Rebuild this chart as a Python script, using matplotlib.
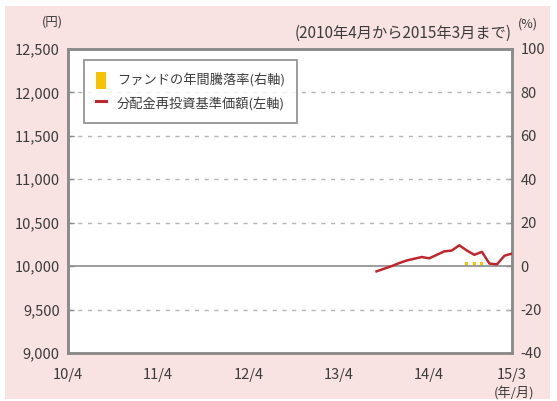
import matplotlib.pyplot as plt
from matplotlib.patches import Rectangle, Patch
from matplotlib.lines import Line2D

plt.rcParams['font.family'] = ['Noto Sans CJK JP', 'DejaVu Sans']

# months counted from 2010/4 (0) to 2015/3 (59)
nav_months = list(range(41, 60))
nav_values = [9940, 9970, 10000, 10035, 10065, 10085, 10105, 10090, 10130, 10170,
              10180, 10240, 10180, 10130, 10165, 10030, 10020, 10120, 10145]

ret_months = [53, 54, 55, 56, 57, 58, 59]
ret_values = [1.8, 1.7, 1.8, 0.0, 0.7, 0.0, 0.0]

xtick_pos = [0, 12, 24, 36, 48, 59]
xtick_labels = ['10/4', '11/4', '12/4', '13/4', '14/4', '15/3']
left_ticks = [9000, 9500, 10000, 10500, 11000, 11500, 12000, 12500]
right_ticks = [-40, -20, 0, 20, 40, 60, 80, 100]

pink = '#f9e2e2'
frame = '#8a8a8a'
txt = '#3c3c3c'
red = '#c0262d'
yellow = '#f7c200'

fig = plt.figure(figsize=(5.57, 4.01), dpi=100)
fig.patches.append(Rectangle((5 / 557, 2 / 401), 545 / 557, 393 / 401,
                             transform=fig.transFigure, facecolor=pink,
                             edgecolor='none', zorder=-5))

ax2 = fig.add_axes([68 / 557, 48 / 401, 444 / 557, 304 / 401])
ax = ax2.twinx()
ax.yaxis.tick_left()
ax2.yaxis.tick_right()
ax.set_zorder(ax2.get_zorder() + 1)
ax.patch.set_visible(False)
ax2.set_facecolor('white')

# bars on right axis
ax2.bar(ret_months, ret_values, width=0.4, color=yellow, zorder=2)
ax2.set_ylim(-40, 100)
ax2.set_yticks(right_ticks)
ax2.set_yticklabels([str(v) for v in right_ticks])

# NAV line on left axis
ax.plot(nav_months, nav_values, color=red, lw=1.8, zorder=3)
ax.set_ylim(9000, 12500)
ax.set_yticks(left_ticks)
ax.set_yticklabels([f'{v:,}' for v in left_ticks])
for v in left_ticks[1:-1]:
    if v == 10000:
        ax.axhline(v, color='#8c8c8c', lw=1.2, zorder=1)
    else:
        ax.axhline(v, color='#b5b5b5', lw=1.0, ls=(0, (3, 4)), zorder=1)

ax.set_xlim(0, 59)
ax2.set_xticks(xtick_pos)
ax2.set_xticklabels(xtick_labels)

for a in (ax, ax2):
    for s in a.spines.values():
        s.set_color(frame)
        s.set_linewidth(1.8)
    a.tick_params(axis='y', direction='in', length=4, width=1, color=frame,
                  labelsize=10.5, labelcolor=txt, pad=6)
ax2.tick_params(axis='x', length=0, labelsize=10.5, labelcolor=txt, pad=11)
ax.tick_params(axis='x', length=0)

fig.text(52 / 557, 1 - 22 / 401, '(円)', fontsize=9, color=txt, ha='center', va='center')
fig.text(528 / 557, 1 - 24 / 401, '(%)', fontsize=9, color=txt, ha='center', va='center')
fig.text(512 / 557, 1 - 33 / 401, '(2010年4月から2015年3月まで)', fontsize=11,
         color=txt, ha='right', va='center')
fig.text(514 / 557, 1 - 393 / 401, '(年/月)', fontsize=9.5, color=txt, ha='center', va='center')

handles = [Patch(facecolor=yellow, edgecolor='none'),
           Line2D([], [], color=red, lw=2.2)]
labels = ['ファンドの年間騰落率(右軸)', '分配金再投資基準価額(左軸)']
leg = ax.legend(handles, labels, loc='upper left', bbox_to_anchor=(0.036, 0.963),
                fontsize=9.5, frameon=True, fancybox=False, edgecolor='#7a7a7a',
                handlelength=0.8, handleheight=1.6, handletextpad=0.8,
                borderpad=0.9, labelspacing=0.4, borderaxespad=0)
leg.get_frame().set_linewidth(1.3)
for t in leg.get_texts():
    t.set_color(txt)

fig.savefig('out.png', dpi=100)
